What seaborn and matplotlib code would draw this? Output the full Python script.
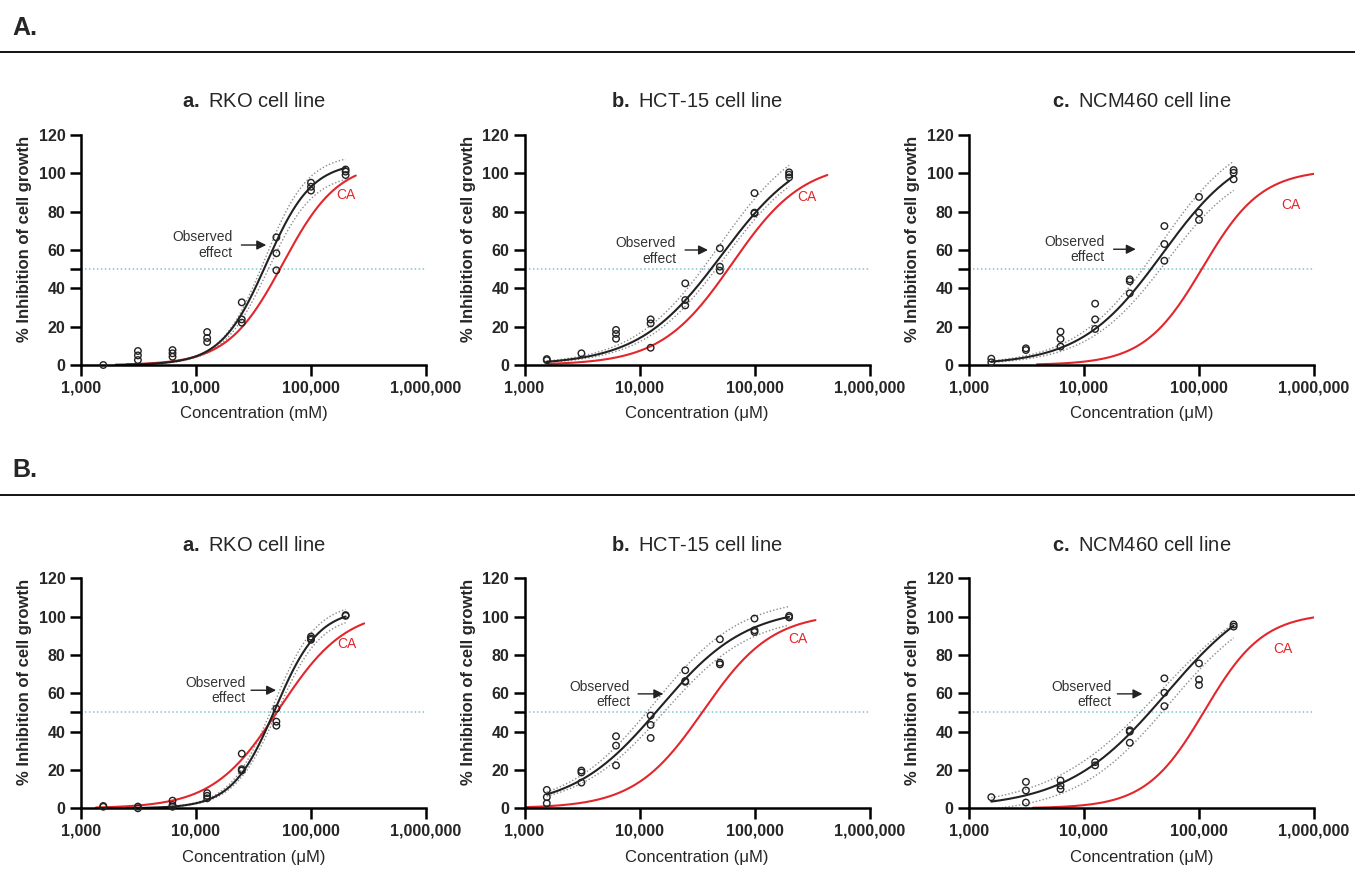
import numpy as np
import pandas as pd
import matplotlib
matplotlib.use("Agg")
import matplotlib.pyplot as plt
import seaborn as sns
from matplotlib.lines import Line2D
from matplotlib.ticker import NullLocator

sns.set_theme(style="ticks")
plt.rcParams['font.family'] = ['Liberation Sans', 'DejaVu Sans']
plt.rcParams['mathtext.fontset'] = 'custom'
plt.rcParams['mathtext.rm'] = 'Liberation Sans'
plt.rcParams['mathtext.bf'] = 'Liberation Sans:bold'

# --- data ---
conc = [1562.5, 3125, 6250, 12500, 25000, 50000, 100000, 200000]

panel_letters = ["a.", "b.", "c."]
cell_lines = ["RKO cell line", "HCT-15 cell line", "NCM460 cell line"]
section_labels = ["A.", "B."]
x_labels = ["Concentration (mM)", "Concentration (μM)", "Concentration (μM)",
            "Concentration (μM)", "Concentration (μM)", "Concentration (μM)"]
x_ticks = [1e3, 1e4, 1e5, 1e6]
x_tick_labels = ["1,000", "10,000", "100,000", "1,000,000"]
y_ticks = [0, 20, 40, 60, 80, 100, 120]

# replicate measurements per concentration (panels A.a, A.b, A.c, B.a, B.b, B.c)
obs_Aa = [[0.0], [7.3, 5.0, 2.6], [7.8, 6.1, 4.3], [17.2, 14.1, 12.0], [32.7, 23.8, 22.1],
          [66.6, 58.3, 49.4], [95.1, 93.0, 91.0], [102.0, 100.9, 99.1]]
obs_Ab = [[3.1, 2.5], [6.1], [18.3, 16.2, 13.7], [23.8, 21.7, 9.0], [42.6, 33.9, 31.1],
          [60.9, 51.3, 49.2], [89.7, 79.5, 79.1], [100.5, 99.3, 97.9]]
obs_Ac = [[3.3, 1.4], [8.7, 7.8], [17.4, 13.6, 9.6], [32.0, 23.8, 18.8], [44.7, 43.7, 37.4],
          [72.5, 63.1, 54.4], [87.7, 79.5, 75.7], [101.7, 100.3, 96.9]]
obs_Ba = [[1.2, 0.8], [0.9, 0.0], [4.0, 1.7, 0.8], [7.9, 6.5, 5.2], [28.5, 20.4, 19.7],
          [52.0, 45.2, 43.1], [89.6, 88.6, 87.9], [100.8, 100.4]]
obs_Bb = [[9.6, 5.8, 2.6], [19.7, 18.7, 13.4], [37.6, 32.7, 22.4], [48.4, 43.5, 36.7],
          [72.0, 66.4, 66.0], [88.2, 76.0, 75.1], [99.0, 92.9, 92.0], [100.4, 99.6]]
obs_Bc = [[5.8], [13.8, 9.3, 3.0], [14.5, 11.9, 10.0], [24.1, 22.4], [40.7, 40.0, 34.2],
          [67.8, 60.3, 53.3], [75.6, 67.2, 64.3], [95.9, 94.8]]
observations = [obs_Aa, obs_Ab, obs_Ac, obs_Ba, obs_Bb, obs_Bc]

# fitted dose-response curves (EC50, Hill slope, top, bottom)
fit_params = [(41000, 2.2, 106, 0), (52000, 1.2, 115, 0), (48000, 1.22, 116, 0),
              (49000, 2.3, 104, 0), (15000, 1.15, 105, 0), (52000, 1.0, 120, 0)]
fit_range = [(2000, 2e5), (1562.5, 2e5), (1562.5, 2e5), (2500, 2e5), (1562.5, 2e5), (1562.5, 2e5)]
band_upper = [(39500, 2.3, 110, 0), (49000, 1.18, 124, 0), (45000, 1.2, 124, 0),
              (47000, 2.3, 107.5, 0), (13500, 1.15, 110, 0), (46000, 0.9, 122, 0)]
band_lower = [(42500, 2.2, 100, 0), (55000, 1.24, 112, 0), (52000, 1.25, 108, 0),
              (51000, 2.3, 101, 0), (16500, 1.15, 101, 0), (56000, 1.05, 113, -3)]
band_range = [(3125, 2e5), (1562.5, 2e5), (1562.5, 2e5), (2500, 2e5), (1562.5, 2e5), (1562.5, 2e5)]
# predicted concentration-addition (CA) curves
ca_params = [(57000, 1.8, 106, 0), (64000, 1.4, 106, 0), (108000, 1.7, 102, 0),
             (53000, 1.5, 104, 0), (36000, 1.45, 102, 0), (112000, 1.7, 102, 0)]
ca_range = [(2500, 245000), (1600, 430000), (3900, 1e6), (1350, 290000), (1000, 339000), (3600, 1e6)]


def hill(x, ec50, slope, top, bottom):
    return bottom + (top - bottom) / (1 + (ec50 / x) ** slope)


# --- layout ---
W, H = 1355, 873
fig = plt.figure(figsize=(W / 100, H / 100), dpi=100)

col_left = [81 / W, 524.5 / W, 969 / W]
row_bottom = [1 - 365 / H, 1 - 808.3 / H]
ax_w, ax_h = 345 / W, 230 / H

# text/arrow placement per panel: (text_x, text_y, arrow_from, arrow_to, arrow_y, ca_x, ca_y)
annot = [(20800, 62.6, 24800, 40800, 62.6, 203000, 88.7),
         (20800, 59.5, 24900, 39400, 60.0, 283000, 87.5),
         (15100, 60.2, 18100, 28200, 60.4, 631000, 83.5),
         (26800, 61.5, 30100, 49700, 61.6, 204000, 85.6),
         (8280, 59.4, 9720, 16100, 59.7, 237000, 88.2),
         (17400, 59.4, 19500, 32200, 59.7, 541000, 83.3)]

RED = "#e3262b"
DARK = "#222222"

for i in range(6):
    row, col = divmod(i, 3)
    ax = fig.add_axes([col_left[col], row_bottom[row], ax_w, ax_h])

    pts = pd.DataFrame([(c, v) for c, vals in zip(conc, observations[i]) for v in vals],
                       columns=["conc", "value"])

    xb = np.logspace(np.log10(band_range[i][0]), np.log10(band_range[i][1]), 300)
    xf = np.logspace(np.log10(fit_range[i][0]), np.log10(fit_range[i][1]), 300)
    xc = np.logspace(np.log10(ca_range[i][0]), np.log10(ca_range[i][1]), 300)

    ax.axhline(50, color="#7cc6d6", lw=1.1, ls=(0, (1, 1.6)), zorder=1)
    sns.lineplot(x=xb, y=hill(xb, *band_upper[i]), ax=ax, color="#8c8c8c", lw=1.0,
                 ls=(0, (1, 1.5)), estimator=None, sort=False)
    sns.lineplot(x=xb, y=hill(xb, *band_lower[i]), ax=ax, color="#8c8c8c", lw=1.0,
                 ls=(0, (1, 1.5)), estimator=None, sort=False)
    sns.lineplot(x=xc, y=hill(xc, *ca_params[i]), ax=ax, color=RED, lw=1.5,
                 estimator=None, sort=False)
    sns.lineplot(x=xf, y=hill(xf, *fit_params[i]), ax=ax, color=DARK, lw=1.5,
                 estimator=None, sort=False)
    sns.scatterplot(data=pts, x="conc", y="value", ax=ax, marker="o", s=22,
                    facecolors="none", edgecolor=DARK, linewidth=1.0,
                    clip_on=False, zorder=5)

    ax.set_xscale("log")
    ax.set_xlim(1e3, 1e6)
    ax.set_ylim(0, 120)
    ax.set_xticks(x_ticks)
    ax.set_xticklabels(x_tick_labels)
    ax.xaxis.set_minor_locator(NullLocator())
    ax.set_yticks(y_ticks)
    ax.set_yticks([50], minor=True)
    ax.tick_params(which="both", length=8, width=1.8, direction="out", color="black",
                   labelsize=11.5, pad=3)
    for lbl in ax.get_xticklabels() + ax.get_yticklabels():
        lbl.set_fontweight("bold")
    sns.despine(ax=ax)
    for s in ["left", "bottom"]:
        ax.spines[s].set_linewidth(1.8)
        ax.spines[s].set_color("black")

    ax.set_xlabel(x_labels[i], fontsize=12, labelpad=8)
    ax.set_ylabel("% Inhibition of cell growth", fontsize=12, fontweight="bold")
    ax.yaxis.set_label_coords(-0.142, 0.55)
    ax.set_title(r"$\mathbf{" + panel_letters[col] + r"}\;$" + cell_lines[col],
                 fontsize=14.5, pad=20)

    tx, ty, a0, a1, ay, cx, cy = annot[i]
    ax.text(tx, ty, "Observed\neffect", ha="right", va="center", fontsize=10,
            color="#333333", multialignment="right", linespacing=1.15)
    ax.annotate("", xy=(a1, ay), xytext=(a0, ay),
                arrowprops=dict(arrowstyle="-|>", color=DARK, lw=1.0,
                                mutation_scale=14, shrinkA=0, shrinkB=0))
    ax.text(cx, cy, "CA", color=RED, fontsize=10, ha="center", va="center")

# section headers with rules
for label, ty, ly in zip(section_labels, [28, 470], [52, 495]):
    fig.text(12 / W, 1 - ty / H, label, fontsize=18, fontweight="bold", va="center", ha="left")
    fig.add_artist(Line2D([0, 1], [1 - ly / H, 1 - ly / H], transform=fig.transFigure,
                          color="black", lw=1.3))

fig.savefig("out.png", dpi=100)
